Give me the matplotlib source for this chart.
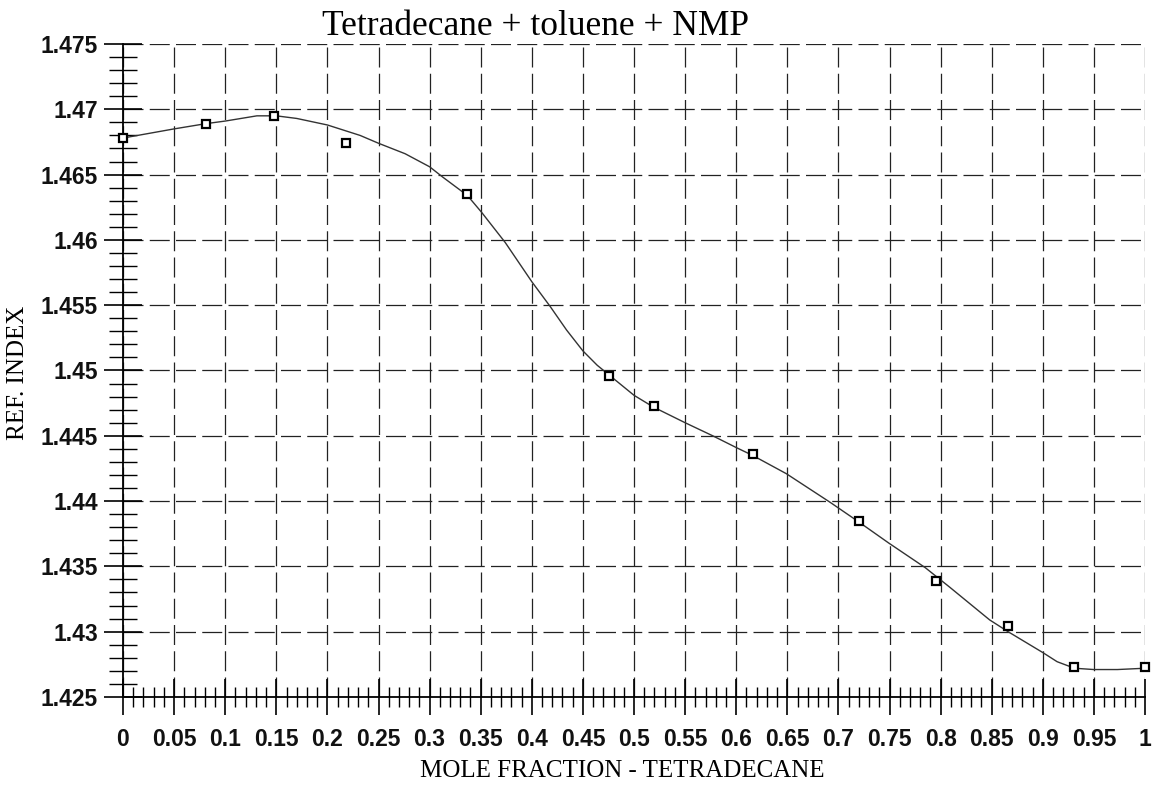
import numpy as np
import matplotlib
matplotlib.use('Agg')
import matplotlib.pyplot as plt
from matplotlib.ticker import MultipleLocator, FuncFormatter

# measured points
x_meas = [0.0, 0.081, 0.148, 0.218, 0.337, 0.476, 0.520, 0.616, 0.720, 0.795, 0.866, 0.931, 1.0]
y_meas = [1.4678, 1.4689, 1.4695, 1.4674, 1.4635, 1.4496, 1.4473, 1.4436, 1.4385, 1.4339, 1.4304, 1.4273, 1.4273]

# fitted curve
x_fit = [0.0, 0.05, 0.081, 0.1, 0.131, 0.15, 0.17, 0.2, 0.232, 0.25, 0.276, 0.30, 0.313, 0.337,
         0.351, 0.374, 0.40, 0.418, 0.434, 0.45, 0.464, 0.50, 0.519, 0.55, 0.577, 0.60, 0.616,
         0.649, 0.692, 0.720, 0.749, 0.785, 0.809, 0.848, 0.866, 0.90, 0.914, 0.931, 0.95, 0.973, 1.0]
y_fit = [1.4678, 1.4685, 1.4689, 1.4691, 1.4695, 1.4695, 1.4693, 1.4688, 1.4680, 1.4674, 1.4666,
         1.4656, 1.4648, 1.4634, 1.4621, 1.4598, 1.4568, 1.4549, 1.4531, 1.4515, 1.4504, 1.4481,
         1.4472, 1.4460, 1.4450, 1.4441, 1.4435, 1.4421, 1.4399, 1.4384, 1.4368, 1.4349, 1.4334,
         1.4309, 1.4300, 1.4284, 1.4277, 1.4272, 1.4271, 1.4271, 1.4272]

title = 'Tetradecane + toluene + NMP'
xlabel = 'MOLE FRACTION - TETRADECANE'
ylabel = 'REF. INDEX'

fig = plt.figure(figsize=(11.56, 7.93), dpi=100)
ax = fig.add_axes([0.1064, 0.1211, 0.8841, 0.8234])

ax.plot(x_fit, y_fit, '-', color='#333333', lw=1.0, zorder=3, clip_on=False)
ax.plot(x_meas, y_meas, 's', ms=6, mfc='white', mec='black', mew=1.6, zorder=4, clip_on=False)

ax.set_xlim(0, 1)
ax.set_ylim(1.425, 1.475)

ax.xaxis.set_major_locator(MultipleLocator(0.05))
ax.xaxis.set_minor_locator(MultipleLocator(0.01))
ax.yaxis.set_major_locator(MultipleLocator(0.005))
ax.yaxis.set_minor_locator(MultipleLocator(0.001))

ax.xaxis.set_major_formatter(FuncFormatter(lambda v, p: ('%.2f' % v).rstrip('0').rstrip('.')))
ax.yaxis.set_major_formatter(FuncFormatter(lambda v, p: ('%.3f' % v).rstrip('0').rstrip('.')))

ax.grid(True, which='major', color='#222222', lw=0.9, linestyle=(0, (16, 5)))

for s in ['top', 'right']:
    ax.spines[s].set_visible(False)
ax.spines['left'].set_linewidth(1.3)
ax.spines['bottom'].set_linewidth(1.3)

ax.tick_params(axis='y', which='major', direction='inout', length=28, width=1.2, pad=4)
ax.tick_params(axis='y', which='minor', direction='inout', length=20, width=1.0)
ax.tick_params(axis='x', which='major', direction='inout', length=26, width=1.2, pad=9)
ax.tick_params(axis='x', which='minor', direction='inout', length=14, width=1.0)

for lab in ax.get_xticklabels() + ax.get_yticklabels():
    lab.set_fontfamily('Liberation Sans')
    lab.set_fontweight('bold')
    lab.set_fontsize(16.5)
    lab.set_color('#111111')

fig.text(536 / 1156, 1 - 35 / 793, title, ha='center', va='baseline',
         family='Liberation Serif', fontsize=25.5)
fig.text(622 / 1156, 1 - 771 / 793, xlabel, ha='center', va='center',
         family='Liberation Serif', fontsize=18)
fig.text(18 / 1156, 1 - 373 / 793, ylabel, ha='center', va='center', rotation=90,
         family='Liberation Serif', fontsize=18)

plt.savefig('out.png', dpi=100)
